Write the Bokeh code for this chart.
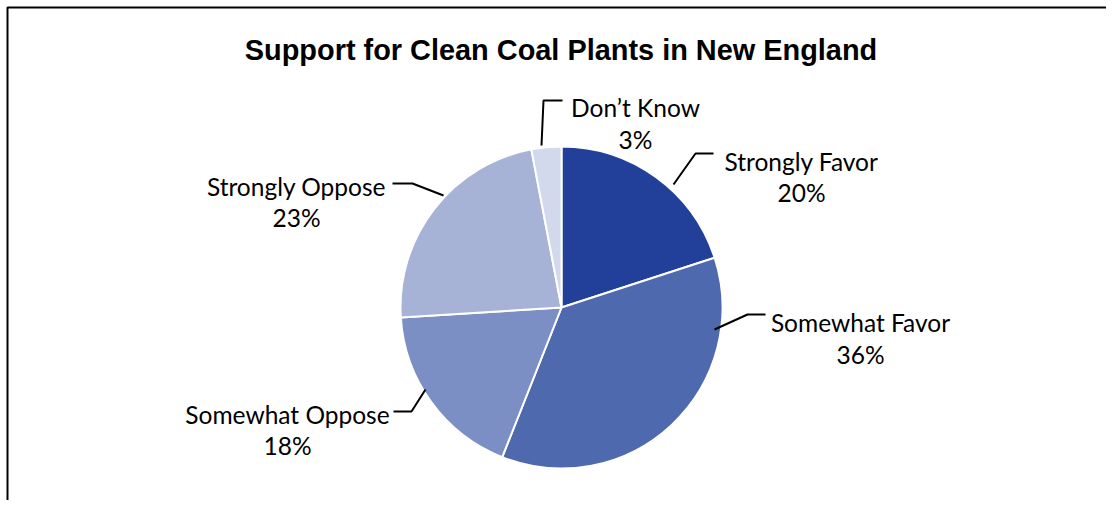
import numpy as np
from bokeh.plotting import figure
from bokeh.models import ColumnDataSource, Range1d
from bokeh.core.properties import value
from bokeh.embed import file_html
from bokeh.resources import INLINE

# ---- data ----
categories = ["Strongly Favor", "Somewhat Favor", "Somewhat Oppose", "Strongly Oppose", "Don\u2019t Know"]
percents = [20, 36, 18, 23, 3]
colors = ["#22409A", "#4F69AE", "#7B8FC4", "#A6B3D7", "#D2D9EC"]
title_text = "Support for Clean Coal Plants in New England"

# ---- layout (pixel coordinates of the reference picture) ----
W, H = 1106, 500
def X(wx): return wx
def Y(wy): return H - wy

pie_cx, pie_cy, pie_r = 561, 307, 161
# label centre x, first-line baseline, second-line baseline
label_pos = [(801, 161, 192), (860, 322, 354), (287, 414, 445), (296, 186, 217), (635, 107, 139)]
leader_pts = [
    [(713, 153), (695, 153), (673, 184)],
    [(765, 314), (747, 314), (714, 329)],
    [(393, 411), (411, 411), (425, 389)],
    [(392, 183), (412, 183), (443, 195)],
    [(562, 100), (543, 100), (541, 145)],
]

p = figure(width=W, height=H, x_range=Range1d(0, W), y_range=Range1d(0, H),
           output_backend="svg", toolbar_location=None,
           x_axis_location=None, y_axis_location=None, min_border=0,
           outline_line_color=None, background_fill_color="white",
           border_fill_color="white")
p.grid.visible = False

frac = np.array(percents, dtype=float) / sum(percents)
cum = np.concatenate([[0.0], np.cumsum(frac)])
start = np.pi / 2 - 2 * np.pi * cum[:-1]
end = np.pi / 2 - 2 * np.pi * cum[1:]

src = ColumnDataSource(dict(cat=categories, pct=[f"{v}%" for v in percents],
                            start=start, end=end, color=colors))
p.wedge(x=X(pie_cx), y=Y(pie_cy), radius=pie_r, start_angle="start", end_angle="end",
        direction="clock", fill_color="color", line_color="white", line_width=2,
        source=src)

lsrc = ColumnDataSource(dict(
    name=categories, pct=[f"{v}%" for v in percents],
    x=[X(a) for a, b, c in label_pos],
    y1=[Y(b) for a, b, c in label_pos],
    y2=[Y(c) for a, b, c in label_pos],
))
for col in ("name", "pct"):
    p.text(x="x", y="y1" if col == "name" else "y2", text=col, source=lsrc,
           text_font=value("Lato"), text_font_size="24.5px", text_color="#000000",
           text_align="center", text_baseline="alphabetic")

p.multi_line(xs=[[X(a) for a, b in pts] for pts in leader_pts],
             ys=[[Y(b) for a, b in pts] for pts in leader_pts],
             line_color="black", line_width=2)

# chart border (top and left edges are visible in the reference)
p.line(x=[X(7), X(7), W], y=[0, Y(7), Y(7)], line_color="black", line_width=2)

p.text(x=[X(560.5)], y=[Y(49.5)], text=[title_text],
       text_font=value("Liberation Sans"), text_font_style="bold",
       text_font_size="28.9px", text_color="#000000",
       text_align="center", text_baseline="alphabetic")

open("out.html", "w").write(file_html(p, INLINE))
